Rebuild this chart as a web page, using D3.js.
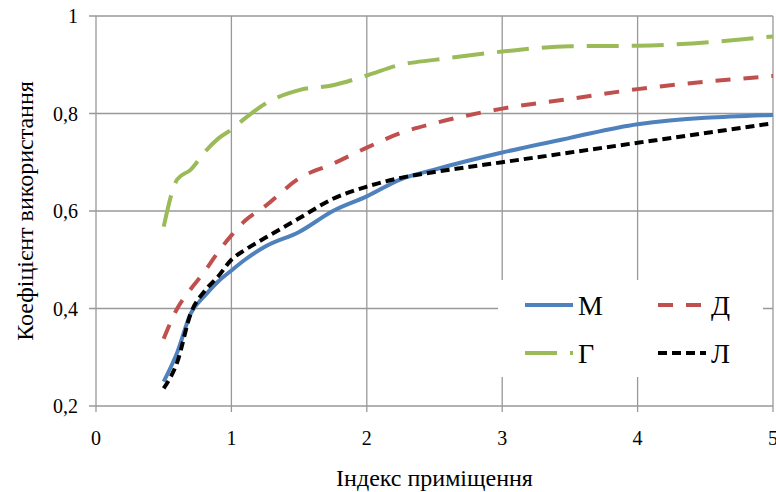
<!DOCTYPE html>
<html>
<head>
<meta charset="utf-8">
<script src="https://cdn.jsdelivr.net/npm/d3@7"></script>
<style>
    body { margin: 0; background: #fff; }
</style>
</head>
<body>
<div id="chart"></div>
<script>
// room index values (x)
var roomIndex = [0.5, 0.6, 0.7, 0.8, 0.9, 1.0, 1.1, 1.25, 1.5, 1.75, 2.0, 2.25, 2.5, 3.0, 3.5, 4.0, 5.0]

// utilization coefficient per series
var seriesM = [0.25, 0.31, 0.39, 0.425, 0.455, 0.478, 0.5, 0.527, 0.557, 0.60, 0.63, 0.665, 0.685, 0.72, 0.75, 0.778, 0.797]
var seriesD = [0.338, 0.40, 0.44, 0.475, 0.515, 0.55, 0.58, 0.61, 0.667, 0.697, 0.73, 0.76, 0.78, 0.81, 0.83, 0.85, 0.877]
var seriesG = [0.568, 0.665, 0.685, 0.72, 0.748, 0.767, 0.79, 0.82, 0.848, 0.858, 0.878, 0.90, 0.91, 0.927, 0.938, 0.939, 0.958]
var seriesL = [0.236, 0.29, 0.39, 0.435, 0.465, 0.50, 0.52, 0.545, 0.585, 0.625, 0.65, 0.668, 0.68, 0.70, 0.72, 0.74, 0.78]

var seriesNames = ['М', 'Д', 'Г', 'Л']

var xTicks = [0, 1, 2, 3, 4, 5]
var yTicks = [0.2, 0.4, 0.6, 0.8, 1]

var width = 776, height = 492
var serif = '"Liberation Serif", "DejaVu Serif", "Times New Roman", serif'

var svg = d3.select("#chart")
    .append("svg")
    .attr("width", width)
    .attr("height", height)

var x = d3.scaleLinear().domain([0, 5]).range([96, 773])
var y = d3.scaleLinear().domain([0.2, 1]).range([406, 16])

var gridColor = '#999'

// grid (with small outer ticks)
svg.append('g')
    .selectAll('line')
    .data(xTicks).enter()
    .append('line')
    .attr('x1', d => x(d)).attr('x2', d => x(d))
    .attr('y1', y(1)).attr('y2', y(0.2) + 6)
    .attr('stroke', gridColor).attr('stroke-width', 1.3)

svg.append('g')
    .selectAll('line')
    .data(yTicks).enter()
    .append('line')
    .attr('x1', x(0) - 7).attr('x2', x(5))
    .attr('y1', d => y(d)).attr('y2', d => y(d))
    .attr('stroke', gridColor).attr('stroke-width', 1.3)

// tick labels
var fmt = d => String(d).replace('.', ',')
svg.append('g')
    .selectAll('text')
    .data(yTicks).enter()
    .append('text')
    .attr('x', 78)
    .attr('y', d => y(d))
    .attr('dy', '0.35em')
    .attr('text-anchor', 'end')
    .style('font-family', serif)
    .style('font-size', '20px')
    .text(fmt)

svg.append('g')
    .selectAll('text')
    .data(xTicks).enter()
    .append('text')
    .attr('x', d => x(d))
    .attr('y', 445)
    .attr('text-anchor', 'middle')
    .style('font-family', serif)
    .style('font-size', '20px')
    .text(d => d)

// axis titles
svg.append('text')
    .attr('x', (x(0) + x(5)) / 2)
    .attr('y', 486)
    .attr('text-anchor', 'middle')
    .style('font-family', serif)
    .style('font-size', '24px')
    .text('Індекс приміщення')

svg.append('text')
    .attr('transform', 'translate(33,' + 211 + ') rotate(-90)')
    .attr('text-anchor', 'middle')
    .style('font-family', serif)
    .style('font-size', '24px')
    .text('Коефіцієнт використання')

// legend background covers the grid
svg.append('rect')
    .attr('x', 498).attr('y', 280)
    .attr('width', 265).attr('height', 97)
    .attr('fill', '#fff')

var styles = [
    { values: seriesM, color: '#4F81BD', dash: null },
    { values: seriesD, color: '#C0504D', dash: '15,13' },
    { values: seriesG, color: '#9BBB59', dash: '32,13' },
    { values: seriesL, color: '#000000', dash: '9,5' }
]

var line = d3.line()
    .x(d => x(d[0]))
    .y(d => y(d[1]))
    .curve(d3.curveMonotoneX)

// draw order: М, Д, Г, Л
styles.forEach(function (s) {
    svg.append('path')
        .datum(roomIndex.map((r, i) => [r, s.values[i]]))
        .attr('d', line)
        .attr('fill', 'none')
        .attr('stroke', s.color)
        .attr('stroke-width', 4)
        .attr('stroke-dasharray', s.dash)
})

// legend
var legendPos = [[525, 305], [658, 305], [525, 353], [658, 353]]
styles.forEach(function (s, i) {
    var p = legendPos[i]
    svg.append('line')
        .attr('x1', p[0]).attr('x2', p[0] + 48)
        .attr('y1', p[1]).attr('y2', p[1])
        .attr('stroke', s.color)
        .attr('stroke-width', 4)
        .attr('stroke-dasharray', s.dash)
    svg.append('text')
        .attr('x', p[0] + 53)
        .attr('y', p[1] + 10)
        .style('font-family', serif)
        .style('font-size', '28px')
        .text(seriesNames[i])
})
</script>
</body>
</html>
